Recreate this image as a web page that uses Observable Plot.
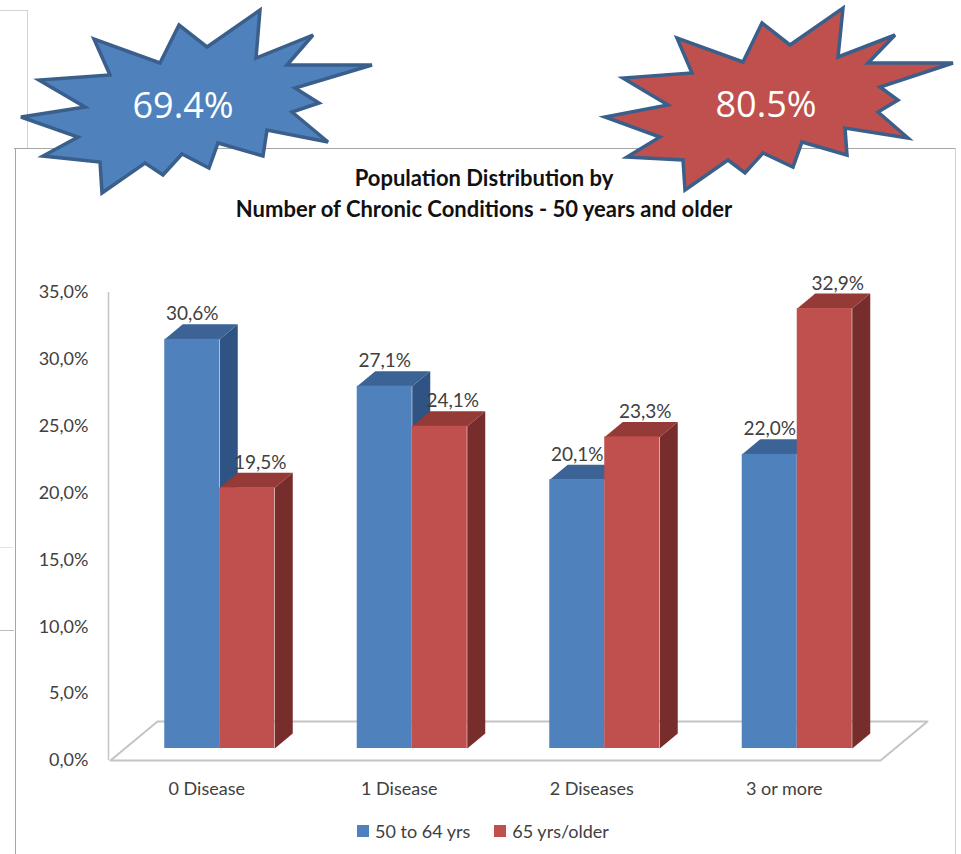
<!DOCTYPE html>
<html>
<head>
<meta charset="utf-8">
<script src="https://cdn.jsdelivr.net/npm/d3@7"></script>
<script src="https://cdn.jsdelivr.net/npm/@observablehq/plot@0.6"></script>
<style>
html, body { margin: 0; padding: 0; background: #fff; }
#page { position: relative; width: 961px; height: 854px; overflow: hidden; font-family: Lato, "Open Sans", sans-serif; }
.abs { position: absolute; }
.line { position: absolute; }
#title { left: 0; width: 968px; top: 162px; text-align: center; font-weight: bold; font-size: 22px; line-height: 31px; color: #111; }
#legend { left: 357px; top: 821px; display: flex; align-items: center; font-size: 18px; line-height: 20px; color: #404040; }
#legend .item { display: flex; align-items: center; margin-right: 24px; }
#legend .sw { width: 12px; height: 12px; margin-right: 6px; display: inline-block; }
#plotwrap { left: 0; top: 0; }
#stars { left: 0; top: 0; pointer-events: none; }
</style>
</head>
<body>
<div id="page"></div>
<script>
// ---- data ----
const categories = ["0 Disease", "1 Disease", "2 Diseases", "3 or more"];
const seriesNames = ["50 to 64 yrs", "65 yrs/older"];
const values50to64 = [30.6, 27.1, 20.1, 22.0];
const values65plus = [19.5, 24.1, 23.3, 32.9];
const yTickValues = [0, 5, 10, 15, 20, 25, 30, 35];
const calloutValues = [69.4, 80.5];
const titleLines = ["Population Distribution by", "Number of Chronic Conditions - 50 years and older"];

// ---- styles ----
const colors = {
  front: ["#4F81BD", "#C0504D"],
  top:   ["#3B6396", "#943A37"],
  side:  ["#2F5382", "#772D2B"]
};
const fmt = v => v.toFixed(1).replace(".", ",") + "%";

const W = 961, H = 854;
const M = { top: 292, right: 81, bottom: 94, left: 110 };
const yMax = 35;
const pxX = (W - M.left - M.right) / categories.length;
const pxY = (H - M.top - M.bottom) / yMax;
const BAR_W = 55 / pxX;                       // bar width in category units
const DEPTH = { x: 18 / pxX, y: 15 / pxY };   // bar depth
const FLOOR = { x: 47 / pxX, y: 39 / pxY };   // floor depth
const SHIFT = { dx: 13, dy: -12 };            // bars sit mid-depth on the floor

// ---- derived tables ----
const bars = categories.flatMap((c, i) => [
  { cat: c, s: 0, value: values50to64[i], x1: i + 0.5 - BAR_W, x2: i + 0.5 },
  { cat: c, s: 1, value: values65plus[i], x1: i + 0.5, x2: i + 0.5 + BAR_W }
]);
const topFaces = bars.flatMap((b, k) => [
  [b.x1, b.value], [b.x2, b.value], [b.x2 + DEPTH.x, b.value + DEPTH.y], [b.x1 + DEPTH.x, b.value + DEPTH.y]
].map(([x, y]) => ({ id: k, s: b.s, x, y })));
const sideFaces = bars.flatMap((b, k) => [
  [b.x2, b.value], [b.x2 + DEPTH.x, b.value + DEPTH.y], [b.x2 + DEPTH.x, DEPTH.y], [b.x2, 0]
].map(([x, y]) => ({ id: k, s: b.s, x, y })));
const n = categories.length;
const floor = [[0, 0], [n, 0], [n + FLOOR.x, FLOOR.y], [FLOOR.x, FLOOR.y], [0, 0]].map(([x, y]) => ({ x, y }));

const seriesMarks = [0, 1].flatMap(s => [
  Plot.line(sideFaces.filter(d => d.s === s), { x: "x", y: "y", z: "id", fill: colors.side[s], stroke: "none", dx: SHIFT.dx, dy: SHIFT.dy }),
  Plot.line(topFaces.filter(d => d.s === s), { x: "x", y: "y", z: "id", fill: colors.top[s], stroke: "none", dx: SHIFT.dx, dy: SHIFT.dy }),
  Plot.rect(bars.filter(d => d.s === s), { x1: "x1", x2: "x2", y1: 0, y2: "value", fill: colors.front[s], dx: SHIFT.dx, dy: SHIFT.dy })
]);
const labelMarks = [0, 1].map(s =>
  Plot.text(bars.filter(d => d.s === s), {
    x: d => (d.x1 + d.x2) / 2, y: "value", text: d => fmt(d.value),
    dx: SHIFT.dx + (s === 0 ? 0 : 13), dy: SHIFT.dy - 25,
    fill: "#404040", fontSize: 19
  })
);

const chart = Plot.plot({
  width: W, height: H,
  marginTop: M.top, marginRight: M.right, marginBottom: M.bottom, marginLeft: M.left,
  style: { fontFamily: "Lato, 'Open Sans', sans-serif", fontSize: "18px", color: "#404040", background: "transparent", overflow: "visible" },
  x: {
    type: "linear", domain: [0, n],
    ticks: categories.map((c, i) => i + 0.5),
    tickFormat: v => categories[Math.round(v - 0.5)],
    tickSize: 0, tickPadding: 22, label: null
  },
  y: {
    domain: [0, yMax], ticks: yTickValues, tickFormat: fmt,
    tickSize: 0, tickPadding: 22, label: null
  },
  marks: [
    Plot.line(floor, { x: "x", y: "y", stroke: "#C4C4C4", strokeWidth: 2 }),
    Plot.ruleX([0], { y1: 0, y2: yMax, stroke: "#C4C4C4", strokeWidth: 1.5, dx: -2 }),
    ...seriesMarks,
    ...labelMarks
  ]
});

// ---- page assembly ----
const page = document.getElementById("page");
function hline(x1, x2, y, c) { const d = document.createElement("div"); d.className = "line"; Object.assign(d.style, { left: x1 + "px", top: y + "px", width: (x2 - x1) + "px", height: "1px", background: c }); page.appendChild(d); }
function vline(x, y1, y2, c) { const d = document.createElement("div"); d.className = "line"; Object.assign(d.style, { left: x + "px", top: y1 + "px", width: "1px", height: (y2 - y1) + "px", background: c }); page.appendChild(d); }
// background frames
vline(27, 10, 148, "#D4D4D4"); hline(0, 27, 10, "#D4D4D4");
hline(0, 13, 547, "#E2E2E2"); hline(0, 14, 630, "#BDBDBD");
// chart frame
hline(14, 956, 148, "#A6A6A6"); vline(15, 148, 854, "#A6A6A6"); vline(955, 148, 854, "#D0D0D0");

const wrap = document.createElement("div"); wrap.id = "plotwrap"; wrap.className = "abs"; wrap.appendChild(chart); page.appendChild(wrap);

const title = document.createElement("div"); title.id = "title"; title.className = "abs";
title.innerHTML = titleLines.join("<br>"); page.appendChild(title);

const legend = document.createElement("div"); legend.id = "legend"; legend.className = "abs";
seriesNames.forEach((s, i) => {
  const it = document.createElement("div"); it.className = "item";
  it.innerHTML = `<span class="sw" style="background:${colors.front[i]}"></span><span>${s}</span>`;
  legend.appendChild(it);
});
page.appendChild(legend);

// starburst callouts
const starShapes = [
  [[260,10],[256,58],[313,35],[287,65],[372,65],[295,88],[319,103],[292,112],[328,142],[267,130],[263,156],[218,143],[209,168],[182,154],[163,175],[145,163],[102,193],[100,162],[43,156],[78,137],[21,117],[85,107],[39,80],[110,75],[94,39],[160,63],[179,25],[207,47]],
  [[843,8],[838,57],[895,35],[868,63],[953,63],[880,87],[898,100],[878,112],[908,138],[845,128],[847,155],[802,142],[793,167],[763,153],[745,173],[728,160],[685,190],[683,160],[627,157],[660,137],[605,117],[668,105],[623,78],[692,73],[677,38],[743,62],[762,23],[790,45]]
];
const starText = [[183, 105], [766, 104]];
const starFill = ["#4F81BD", "#C0504D"];
const NS = "http://www.w3.org/2000/svg";
const svg = document.createElementNS(NS, "svg");
svg.setAttribute("width", W); svg.setAttribute("height", 200); svg.id = "stars"; svg.setAttribute("class", "abs");
starShapes.forEach((pts, i) => {
  const p = document.createElementNS(NS, "polygon");
  p.setAttribute("points", pts.map(q => q.join(",")).join(" "));
  p.setAttribute("fill", starFill[i]); p.setAttribute("stroke", "#3A5F8B");
  p.setAttribute("stroke-width", "3.5"); p.setAttribute("stroke-linejoin", "miter");
  svg.appendChild(p);
  const t = document.createElementNS(NS, "text");
  t.setAttribute("x", starText[i][0]); t.setAttribute("y", starText[i][1]);
  t.setAttribute("text-anchor", "middle"); t.setAttribute("dy", "0.36em");
  t.setAttribute("fill", "#fff"); t.setAttribute("font-family", "'Open Sans', sans-serif"); t.setAttribute("font-size", "36");
  t.textContent = calloutValues[i].toFixed(1) + "%";
  svg.appendChild(t);
});
page.appendChild(svg);
</script>
</body>
</html>
